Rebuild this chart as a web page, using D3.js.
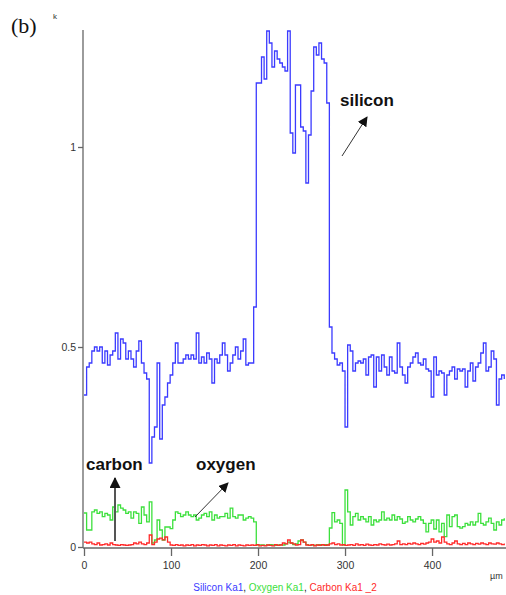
<!DOCTYPE html>
<html>
<head>
<meta charset="utf-8">
<script src="https://cdn.jsdelivr.net/npm/d3@7"></script>
<style>
  body { margin: 0; background: #fff; }
  svg { display: block; }
  .tick text { font-family: Arial, "Liberation Sans", sans-serif; }
</style>
</head>
<body>
<div id="chart"></div>
<script>
// line scan, sampled every 3 µm starting at 0
var stepUm = 3;

var silicon = [
  0.38, 0.45, 0.46, 0.49, 0.50, 0.49, 0.50, 0.46, 0.49, 0.455,
  0.48, 0.49, 0.535, 0.47, 0.52, 0.51, 0.47, 0.49, 0.47, 0.45,
  0.49, 0.515, 0.46, 0.435, 0.42, 0.21, 0.275, 0.30, 0.46, 0.27,
  0.355, 0.375, 0.41, 0.43, 0.46, 0.51, 0.46, 0.46, 0.47, 0.48,
  0.47, 0.48, 0.47, 0.535, 0.46, 0.475, 0.46, 0.485, 0.47, 0.41,
  0.47, 0.46, 0.48, 0.51, 0.48, 0.44, 0.46, 0.48, 0.50, 0.47,
  0.49, 0.52, 0.455, 0.46, 0.46, 0.60, 1.16, 1.16, 1.225, 1.17,
  1.29, 1.26, 1.20, 1.24, 1.22, 1.21, 1.20, 1.19, 1.29, 1.035,
  0.985, 1.155, 1.155, 1.05, 1.04, 0.91, 1.03, 1.14, 1.25, 1.23,
  1.26, 1.22, 1.21, 1.11, 0.55, 0.485, 0.47, 0.455, 0.46, 0.44,
  0.30, 0.505, 0.49, 0.44, 0.46, 0.465, 0.46, 0.47, 0.43, 0.475,
  0.48, 0.40, 0.475, 0.44, 0.48, 0.45, 0.43, 0.475, 0.44, 0.435,
  0.51, 0.45, 0.43, 0.41, 0.45, 0.46, 0.475, 0.485, 0.46, 0.455,
  0.47, 0.445, 0.44, 0.375, 0.475, 0.43, 0.44, 0.435, 0.38, 0.43,
  0.44, 0.45, 0.42, 0.445, 0.44, 0.445, 0.40, 0.44, 0.46, 0.415,
  0.45, 0.46, 0.485, 0.51, 0.44, 0.45, 0.49, 0.47, 0.355, 0.42,
  0.43, 0.42
];

var oxygen = [
  0.085, 0.0425, 0.0425, 0.088, 0.0925, 0.084, 0.088, 0.076, 0.084, 0.08,
  0.0675, 0.1, 0.088, 0.105, 0.097, 0.0925, 0.084, 0.088, 0.072, 0.088,
  0.084, 0.059, 0.1, 0.08, 0.063, 0.113, 0.01, 0.0175, 0.0675, 0.0425,
  0.0175, 0.05, 0.05, 0.046, 0.0675, 0.088, 0.084, 0.076, 0.08, 0.088,
  0.08, 0.076, 0.08, 0.0675, 0.072, 0.08, 0.084, 0.076, 0.088, 0.0675,
  0.08, 0.072, 0.076, 0.076, 0.084, 0.072, 0.097, 0.076, 0.072, 0.08,
  0.08, 0.0675, 0.072, 0.076, 0.072, 0.063, 0.005, 0.005, 0.005, 0.004,
  0.005, 0.006, 0.005, 0.004, 0.005, 0.006, 0.005, 0.008, 0.012, 0.01,
  0.006, 0.008, 0.015, 0.0175, 0.012, 0.006, 0.004, 0.005, 0.004, 0.005,
  0.006, 0.005, 0.006, 0.005, 0.0475, 0.086, 0.063, 0.0675, 0.059, 0.005,
  0.1425, 0.088, 0.055, 0.076, 0.084, 0.0675, 0.076, 0.07, 0.063, 0.076,
  0.055, 0.0675, 0.063, 0.0675, 0.088, 0.0675, 0.072, 0.0675, 0.08, 0.0675,
  0.076, 0.07, 0.059, 0.063, 0.076, 0.0675, 0.063, 0.07, 0.076, 0.0675,
  0.059, 0.038, 0.059, 0.0675, 0.045, 0.0675, 0.038, 0.059, 0.026, 0.08,
  0.051, 0.076, 0.08, 0.051, 0.047, 0.051, 0.059, 0.055, 0.063, 0.055,
  0.063, 0.084, 0.059, 0.055, 0.063, 0.072, 0.059, 0.0425, 0.063, 0.055,
  0.0675, 0.072
];

var carbon = [
  0.012, 0.01, 0.012, 0.008, 0.006, 0.01, 0.005, 0.006, 0.008, 0.005,
  0.01, 0.006, 0.005, 0.004, 0.006, 0.005, 0.004, 0.005, 0.006, 0.01,
  0.008, 0.012, 0.008, 0.006, 0.01, 0.03, 0.006, 0.012, 0.02, 0.022,
  0.018, 0.025, 0.012, 0.005, 0.004, 0.006, 0.004, 0.005, 0.003, 0.005,
  0.004, 0.006, 0.003, 0.005, 0.004, 0.006, 0.005, 0.003, 0.005, 0.004,
  0.006, 0.003, 0.005, 0.004, 0.003, 0.005, 0.004, 0.006, 0.003, 0.005,
  0.004, 0.003, 0.005, 0.004, 0.005, 0.004, 0.006, 0.003, 0.004, 0.003,
  0.005, 0.004, 0.003, 0.006, 0.004, 0.005, 0.01, 0.008, 0.0175, 0.01,
  0.008, 0.005, 0.006, 0.0175, 0.012, 0.005, 0.004, 0.006, 0.003, 0.005,
  0.004, 0.006, 0.004, 0.005, 0.008, 0.01, 0.006, 0.008, 0.005, 0.006,
  0.004, 0.005, 0.006, 0.004, 0.008, 0.005, 0.006, 0.004, 0.007, 0.005,
  0.004, 0.006, 0.005, 0.008, 0.006, 0.005, 0.007, 0.005, 0.006, 0.008,
  0.015, 0.006, 0.008, 0.006, 0.009, 0.007, 0.01, 0.008, 0.006, 0.009,
  0.007, 0.01, 0.012, 0.02, 0.012, 0.015, 0.01, 0.025, 0.012, 0.008,
  0.006, 0.01, 0.015, 0.008, 0.006, 0.009, 0.006, 0.01, 0.008, 0.006,
  0.009, 0.007, 0.01, 0.008, 0.006, 0.01, 0.008, 0.007, 0.01, 0.008,
  0.006, 0.009
];

var xTicks = [0, 100, 200, 300, 400];
var yTicks = [0, 0.5, 1];
var legendItems = ["Silicon Ka1", "Oxygen Ka1", "Carbon Ka1 _2"];
var colors = ["#3b3bff", "#3ce03c", "#ff2a2a"];

var W = 506, H = 595;

var svg = d3.select("#chart").append("svg")
    .attr("width", W)
    .attr("height", H);

var x = d3.scaleLinear().domain([0, 485]).range([84, 506]);
var y = d3.scaleLinear().domain([0, 1.2925]).range([547, 30]);

// axes
var xAxisMinor = d3.axisBottom(x).tickValues(d3.range(0, 481, 10)).tickSize(4).tickFormat("");
var xAxis = d3.axisBottom(x).tickValues(xTicks).tickSize(8).tickPadding(6).tickFormat(d3.format("d"));
var yAxisMinor = d3.axisLeft(y).tickValues(d3.range(0, 1.25, 0.1)).tickSize(3).tickFormat("");
var yAxis = d3.axisLeft(y).tickValues(yTicks).tickSize(5).tickPadding(2).tickFormat(function(d){ return d; });

var gx = svg.append("g").attr("transform", "translate(0,548)");
gx.call(xAxisMinor);
gx.call(xAxis);
gx.selectAll(".domain").remove();
gx.append("line").attr("x1", 83).attr("x2", 506).attr("y1", 0).attr("y2", 0)
    .attr("stroke", "#666").attr("stroke-width", 2);
gx.selectAll("line").attr("stroke", "#666").attr("stroke-width", 1.3);
gx.selectAll("text").attr("font-size", 10.5).attr("fill", "#333");

var gy = svg.append("g").attr("transform", "translate(83,0)");
gy.call(yAxisMinor);
gy.call(yAxis);
gy.selectAll(".domain").remove();
gy.append("line").attr("x1", 0).attr("x2", 0).attr("y1", 30).attr("y2", 548)
    .attr("stroke", "#666").attr("stroke-width", 2);
gy.selectAll("line").attr("stroke", "#666").attr("stroke-width", 1.3);
gy.selectAll("text").attr("font-size", 10.5).attr("fill", "#333");

// unit labels
svg.append("text").attr("x", 53).attr("y", 19).attr("font-family", "Arial, sans-serif")
    .attr("font-size", 8).attr("fill", "#333").text("k");
svg.append("text").attr("x", 490).attr("y", 579).attr("font-family", "Arial, sans-serif")
    .attr("font-size", 9).attr("fill", "#333").text("µm");

svg.append("text").attr("x", 11).attr("y", 33)
    .attr("font-family", "'Liberation Serif', 'Times New Roman', serif")
    .attr("font-size", 22).attr("fill", "#111").text("(b)");

// series
var line = d3.line()
    .x(function(d, i){ return x(i * stepUm); })
    .y(function(d){ return y(d); })
    .curve(d3.curveStepAfter);

[silicon, oxygen, carbon].forEach(function(s, k) {
    svg.append("path")
        .datum(s)
        .attr("fill", "none")
        .attr("stroke", colors[k])
        .attr("stroke-width", 1.3)
        .attr("d", line);
});

// legend
var leg = svg.append("text")
    .attr("x", 285).attr("y", 591)
    .attr("text-anchor", "middle")
    .attr("font-family", "Arial, sans-serif")
    .attr("font-size", 10);
legendItems.forEach(function(t, i) {
    if (i > 0) leg.append("tspan").attr("fill", "#111").text(", ");
    leg.append("tspan").attr("fill", colors[i]).text(t);
});

// annotations
var defs = svg.append("defs");
defs.append("marker")
    .attr("id", "head")
    .attr("viewBox", "0 0 10 10")
    .attr("refX", 9).attr("refY", 5)
    .attr("markerWidth", 10).attr("markerHeight", 10)
    .attr("markerUnits", "userSpaceOnUse")
    .attr("orient", "auto")
    .append("path").attr("d", "M0,0L10,5L0,10z").attr("fill", "#111");
defs.append("marker")
    .attr("id", "headBig")
    .attr("viewBox", "0 0 10 10")
    .attr("refX", 9).attr("refY", 5)
    .attr("markerWidth", 15).attr("markerHeight", 11)
    .attr("markerUnits", "userSpaceOnUse")
    .attr("orient", "auto")
    .append("path").attr("d", "M0,0L10,5L0,10z").attr("fill", "#111");

function label(tx, ty, t) {
    svg.append("text").attr("x", tx).attr("y", ty)
        .attr("font-family", "Arial, 'Liberation Sans', sans-serif")
        .attr("font-weight", "bold").attr("font-size", 17)
        .attr("fill", "#111").text(t);
}
label(340, 106, "silicon");
label(86, 470, "carbon");
label(196, 470, "oxygen");

svg.append("line").attr("x1", 342).attr("y1", 156).attr("x2", 367).attr("y2", 117)
    .attr("stroke", "#333").attr("stroke-width", 1).attr("marker-end", "url(#head)");
svg.append("line").attr("x1", 195).attr("y1", 517).attr("x2", 228).attr("y2", 483)
    .attr("stroke", "#333").attr("stroke-width", 1).attr("marker-end", "url(#head)");
svg.append("line").attr("x1", 115).attr("y1", 541).attr("x2", 115).attr("y2", 478)
    .attr("stroke", "#555").attr("stroke-width", 2).attr("marker-end", "url(#headBig)");
</script>
</body>
</html>
